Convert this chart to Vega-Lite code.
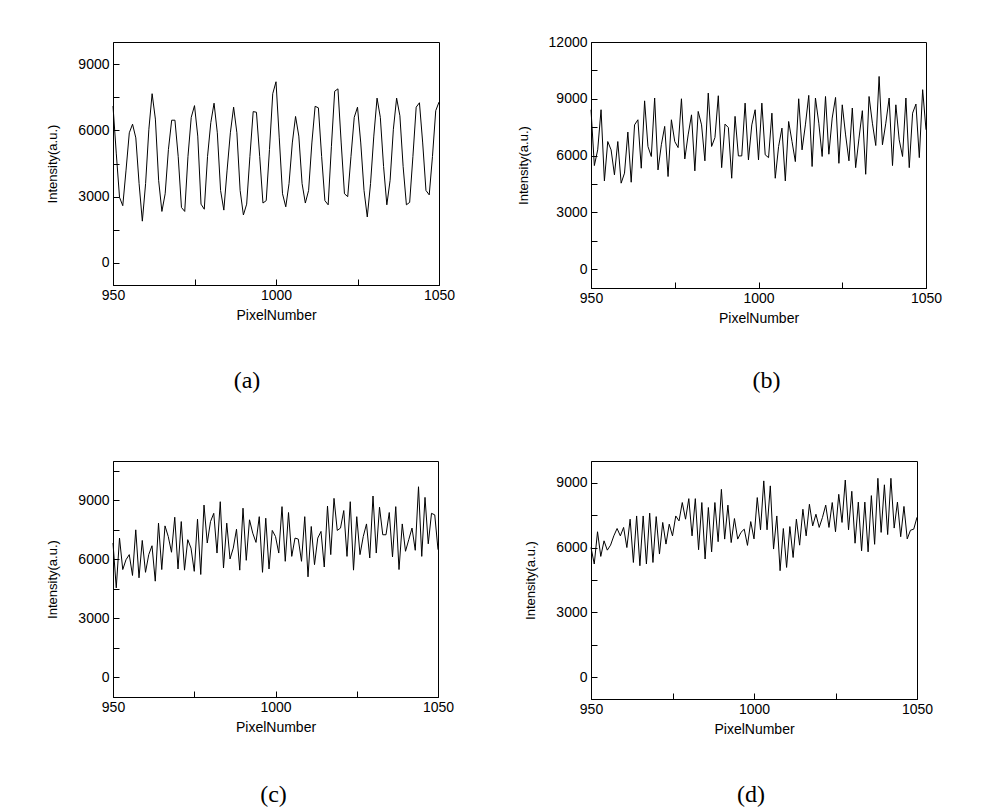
{
"$schema": "https://vega.github.io/schema/vega-lite/v6.json",
"padding": {"left": 46, "top": 34, "right": 0, "bottom": 0},
"autosize": {"type": "pad"},
"background": "white",
"config": {
 "view": {"stroke": "black", "strokeWidth": 1},
 "font": "Liberation Sans",
 "axis": {"grid": false, "tickSize": -6, "tickColor": "black", "tickWidth": 1, "domainColor": "black", "labelColor": "black", "titleColor": "black", "labelFont": "Liberation Sans", "titleFont": "Liberation Sans", "labelFontSize": 14, "titleFontSize": 14, "titleFontWeight": "normal", "labelFlush": false, "labelOverlap": false, "format": "d", "labelPadding": 10},
 "axisX": {"titlePadding": 6, "labelPadding": 9},
 "axisY": {"titlePadding": 18, "titleFontSize": 13},
 "title": {"font": "Liberation Serif", "fontSize": 24, "fontWeight": "normal", "color": "black", "orient": "bottom", "anchor": "middle", "offset": 50}
},
"datasets": {
 "a": [{"n":950,"v":7100},{"n":951,"v":4970},{"n":952,"v":2970},{"n":953,"v":2590},{"n":954,"v":4200},{"n":955,"v":5890},{"n":956,"v":6280},{"n":957,"v":5660},{"n":958,"v":3590},{"n":959,"v":1890},{"n":960,"v":3590},{"n":961,"v":6050},{"n":962,"v":7660},{"n":963,"v":6510},{"n":964,"v":3740},{"n":965,"v":2330},{"n":966,"v":3130},{"n":967,"v":5130},{"n":968,"v":6460},{"n":969,"v":6460},{"n":970,"v":4820},{"n":971,"v":2510},{"n":972,"v":2330},{"n":973,"v":4820},{"n":974,"v":6590},{"n":975,"v":7120},{"n":976,"v":5740},{"n":977,"v":2660},{"n":978,"v":2430},{"n":979,"v":4820},{"n":980,"v":6350},{"n":981,"v":7230},{"n":982,"v":5890},{"n":983,"v":3280},{"n":984,"v":2390},{"n":985,"v":4200},{"n":986,"v":5890},{"n":987,"v":7050},{"n":988,"v":5890},{"n":989,"v":3280},{"n":990,"v":2170},{"n":991,"v":2660},{"n":992,"v":4820},{"n":993,"v":6850},{"n":994,"v":6820},{"n":995,"v":4820},{"n":996,"v":2710},{"n":997,"v":2820},{"n":998,"v":5130},{"n":999,"v":7660},{"n":1000,"v":8200},{"n":1001,"v":5660},{"n":1002,"v":3130},{"n":1003,"v":2540},{"n":1004,"v":3590},{"n":1005,"v":5430},{"n":1006,"v":6630},{"n":1007,"v":5740},{"n":1008,"v":3590},{"n":1009,"v":2710},{"n":1010,"v":3280},{"n":1011,"v":5430},{"n":1012,"v":7090},{"n":1013,"v":7020},{"n":1014,"v":4820},{"n":1015,"v":2820},{"n":1016,"v":2630},{"n":1017,"v":5280},{"n":1018,"v":7770},{"n":1019,"v":7880},{"n":1020,"v":5430},{"n":1021,"v":3130},{"n":1022,"v":3000},{"n":1023,"v":4820},{"n":1024,"v":6590},{"n":1025,"v":7050},{"n":1026,"v":5430},{"n":1027,"v":3280},{"n":1028,"v":2080},{"n":1029,"v":3590},{"n":1030,"v":5740},{"n":1031,"v":7460},{"n":1032,"v":6590},{"n":1033,"v":4360},{"n":1034,"v":2630},{"n":1035,"v":3740},{"n":1036,"v":6050},{"n":1037,"v":7460},{"n":1038,"v":6660},{"n":1039,"v":4360},{"n":1040,"v":2630},{"n":1041,"v":2740},{"n":1042,"v":4820},{"n":1043,"v":7050},{"n":1044,"v":7250},{"n":1045,"v":5430},{"n":1046,"v":3280},{"n":1047,"v":3080},{"n":1048,"v":4820},{"n":1049,"v":6890},{"n":1050,"v":7280}],
 "b": [{"n":950,"v":8420},{"n":951,"v":5470},{"n":952,"v":6300},{"n":953,"v":8420},{"n":954,"v":4660},{"n":955,"v":6740},{"n":956,"v":6300},{"n":957,"v":4980},{"n":958,"v":6740},{"n":959,"v":4540},{"n":960,"v":5070},{"n":961,"v":7240},{"n":962,"v":4590},{"n":963,"v":7620},{"n":964,"v":7890},{"n":965,"v":5330},{"n":966,"v":8890},{"n":967,"v":6480},{"n":968,"v":5950},{"n":969,"v":9040},{"n":970,"v":5240},{"n":971,"v":6570},{"n":972,"v":7540},{"n":973,"v":4890},{"n":974,"v":7890},{"n":975,"v":6740},{"n":976,"v":6420},{"n":977,"v":9000},{"n":978,"v":5820},{"n":979,"v":7090},{"n":980,"v":8150},{"n":981,"v":5190},{"n":982,"v":8330},{"n":983,"v":7620},{"n":984,"v":5720},{"n":985,"v":9300},{"n":986,"v":6480},{"n":987,"v":6950},{"n":988,"v":9160},{"n":989,"v":5360},{"n":990,"v":7660},{"n":991,"v":7480},{"n":992,"v":4800},{"n":993,"v":8070},{"n":994,"v":5980},{"n":995,"v":5980},{"n":996,"v":8770},{"n":997,"v":5770},{"n":998,"v":7620},{"n":999,"v":8420},{"n":1000,"v":5770},{"n":1001,"v":8770},{"n":1002,"v":6040},{"n":1003,"v":5890},{"n":1004,"v":8240},{"n":1005,"v":4800},{"n":1006,"v":6480},{"n":1007,"v":7450},{"n":1008,"v":4660},{"n":1009,"v":7800},{"n":1010,"v":6740},{"n":1011,"v":5680},{"n":1012,"v":9000},{"n":1013,"v":6300},{"n":1014,"v":7620},{"n":1015,"v":9180},{"n":1016,"v":5420},{"n":1017,"v":9040},{"n":1018,"v":7710},{"n":1019,"v":5950},{"n":1020,"v":9120},{"n":1021,"v":6070},{"n":1022,"v":7980},{"n":1023,"v":9070},{"n":1024,"v":5590},{"n":1025,"v":8680},{"n":1026,"v":7090},{"n":1027,"v":5720},{"n":1028,"v":8510},{"n":1029,"v":5360},{"n":1030,"v":6920},{"n":1031,"v":8370},{"n":1032,"v":5010},{"n":1033,"v":9120},{"n":1034,"v":7710},{"n":1035,"v":6530},{"n":1036,"v":10180},{"n":1037,"v":6570},{"n":1038,"v":7710},{"n":1039,"v":9040},{"n":1040,"v":5470},{"n":1041,"v":8680},{"n":1042,"v":6830},{"n":1043,"v":5950},{"n":1044,"v":9040},{"n":1045,"v":5360},{"n":1046,"v":8240},{"n":1047,"v":8720},{"n":1048,"v":5890},{"n":1049,"v":9480},{"n":1050,"v":7360}],
 "c": [{"n":950,"v":6830},{"n":951,"v":4550},{"n":952,"v":7080},{"n":953,"v":5480},{"n":954,"v":5980},{"n":955,"v":6240},{"n":956,"v":5180},{"n":957,"v":7500},{"n":958,"v":5060},{"n":959,"v":6960},{"n":960,"v":5340},{"n":961,"v":6240},{"n":962,"v":6690},{"n":963,"v":4890},{"n":964,"v":7840},{"n":965,"v":5480},{"n":966,"v":7700},{"n":967,"v":7160},{"n":968,"v":6360},{"n":969,"v":8140},{"n":970,"v":5510},{"n":971,"v":7920},{"n":972,"v":5450},{"n":973,"v":7000},{"n":974,"v":6570},{"n":975,"v":5390},{"n":976,"v":8040},{"n":977,"v":5230},{"n":978,"v":8760},{"n":979,"v":6830},{"n":980,"v":7920},{"n":981,"v":8340},{"n":982,"v":6320},{"n":983,"v":8930},{"n":984,"v":5560},{"n":985,"v":7840},{"n":986,"v":6020},{"n":987,"v":6570},{"n":988,"v":7530},{"n":989,"v":5450},{"n":990,"v":8600},{"n":991,"v":5950},{"n":992,"v":8010},{"n":993,"v":7330},{"n":994,"v":6860},{"n":995,"v":8170},{"n":996,"v":5340},{"n":997,"v":8090},{"n":998,"v":5510},{"n":999,"v":7470},{"n":1000,"v":7160},{"n":1001,"v":6320},{"n":1002,"v":8680},{"n":1003,"v":5900},{"n":1004,"v":8380},{"n":1005,"v":6150},{"n":1006,"v":7080},{"n":1007,"v":7030},{"n":1008,"v":5900},{"n":1009,"v":8170},{"n":1010,"v":5110},{"n":1011,"v":7670},{"n":1012,"v":5730},{"n":1013,"v":7080},{"n":1014,"v":7420},{"n":1015,"v":5610},{"n":1016,"v":8710},{"n":1017,"v":6240},{"n":1018,"v":9100},{"n":1019,"v":7470},{"n":1020,"v":7590},{"n":1021,"v":8480},{"n":1022,"v":6150},{"n":1023,"v":8930},{"n":1024,"v":5450},{"n":1025,"v":8170},{"n":1026,"v":6240},{"n":1027,"v":7160},{"n":1028,"v":7800},{"n":1029,"v":6070},{"n":1030,"v":9220},{"n":1031,"v":6320},{"n":1032,"v":8650},{"n":1033,"v":7250},{"n":1034,"v":7250},{"n":1035,"v":8380},{"n":1036,"v":6120},{"n":1037,"v":8680},{"n":1038,"v":5480},{"n":1039,"v":7800},{"n":1040,"v":6410},{"n":1041,"v":7000},{"n":1042,"v":7590},{"n":1043,"v":6460},{"n":1044,"v":9690},{"n":1045,"v":6150},{"n":1046,"v":9150},{"n":1047,"v":6790},{"n":1048,"v":8340},{"n":1049,"v":8260},{"n":1050,"v":6490}],
 "d": [{"n":950,"v":6000},{"n":951,"v":5240},{"n":952,"v":6730},{"n":953,"v":5590},{"n":954,"v":6310},{"n":955,"v":5880},{"n":956,"v":6110},{"n":957,"v":6540},{"n":958,"v":6880},{"n":959,"v":6540},{"n":960,"v":6930},{"n":961,"v":6000},{"n":962,"v":7310},{"n":963,"v":5310},{"n":964,"v":7460},{"n":965,"v":5160},{"n":966,"v":7460},{"n":967,"v":5240},{"n":968,"v":7590},{"n":969,"v":5310},{"n":970,"v":7430},{"n":971,"v":5700},{"n":972,"v":7160},{"n":973,"v":6160},{"n":974,"v":7080},{"n":975,"v":6540},{"n":976,"v":7460},{"n":977,"v":7230},{"n":978,"v":8080},{"n":979,"v":7310},{"n":980,"v":8260},{"n":981,"v":6540},{"n":982,"v":8260},{"n":983,"v":5900},{"n":984,"v":8080},{"n":985,"v":5470},{"n":986,"v":7850},{"n":987,"v":5800},{"n":988,"v":8080},{"n":989,"v":6270},{"n":990,"v":8690},{"n":991,"v":6390},{"n":992,"v":7960},{"n":993,"v":6230},{"n":994,"v":7340},{"n":995,"v":6390},{"n":996,"v":6700},{"n":997,"v":6850},{"n":998,"v":6100},{"n":999,"v":7200},{"n":1000,"v":6400},{"n":1001,"v":8310},{"n":1002,"v":6820},{"n":1003,"v":9080},{"n":1004,"v":6820},{"n":1005,"v":8850},{"n":1006,"v":5930},{"n":1007,"v":7460},{"n":1008,"v":4930},{"n":1009,"v":6880},{"n":1010,"v":5080},{"n":1011,"v":6970},{"n":1012,"v":5540},{"n":1013,"v":7310},{"n":1014,"v":6110},{"n":1015,"v":7770},{"n":1016,"v":6540},{"n":1017,"v":8000},{"n":1018,"v":7000},{"n":1019,"v":7540},{"n":1020,"v":6930},{"n":1021,"v":7390},{"n":1022,"v":7960},{"n":1023,"v":6930},{"n":1024,"v":8080},{"n":1025,"v":6730},{"n":1026,"v":8460},{"n":1027,"v":7160},{"n":1028,"v":9120},{"n":1029,"v":6820},{"n":1030,"v":8600},{"n":1031,"v":6200},{"n":1032,"v":8100},{"n":1033,"v":5850},{"n":1034,"v":8100},{"n":1035,"v":5800},{"n":1036,"v":8400},{"n":1037,"v":6150},{"n":1038,"v":9200},{"n":1039,"v":6700},{"n":1040,"v":8900},{"n":1041,"v":6600},{"n":1042,"v":9200},{"n":1043,"v":6900},{"n":1044,"v":8100},{"n":1045,"v":6500},{"n":1046,"v":7900},{"n":1047,"v":6400},{"n":1048,"v":6800},{"n":1049,"v":6850},{"n":1050,"v":7400}]
},
"bounds": "flush",
"columns": 2,
"spacing": {"row": 173, "column": 152},
"concat": [
  {"width": 326, "height": 243, "data": {"name": "a"},
   "title": {"text": "(a)", "dx": -29, "offset": 47},
   "mark": {"type": "line", "color": "black", "strokeWidth": 1},
   "encoding": {
    "x": {"field": "n", "type": "quantitative", "scale": {"domain": [950, 1050], "nice": false, "zero": false}, "axis": {"values": [950, 975, 1000, 1025, 1050], "labelExpr": "datum.value % 50 === 0 ? datum.label : ''", "title": "PixelNumber"}},
    "y": {"field": "v", "type": "quantitative", "scale": {"domain": [-1000, 10000], "nice": false, "zero": false}, "axis": {"values": [0, 1500, 3000, 4500, 6000, 7500, 9000, 10500], "labelExpr": "datum.value % 3000 === 0 ? datum.label : ''", "title": "Intensity(a.u.)"}}
   }},
  {"width": 335, "height": 246, "data": {"name": "b"},
   "title": {"text": "(b)", "dx": 8, "offset": 44},
   "mark": {"type": "line", "color": "black", "strokeWidth": 1},
   "encoding": {
    "x": {"field": "n", "type": "quantitative", "scale": {"domain": [950, 1050], "nice": false, "zero": false}, "axis": {"values": [950, 975, 1000, 1025, 1050], "labelExpr": "datum.value % 50 === 0 ? datum.label : ''", "title": "PixelNumber"}},
    "y": {"field": "v", "type": "quantitative", "scale": {"domain": [-1000, 12000], "nice": false, "zero": false}, "axis": {"values": [0, 1500, 3000, 4500, 6000, 7500, 9000, 10500, 12000], "labelExpr": "datum.value % 3000 === 0 ? datum.label : ''", "title": "Intensity(a.u.)"}}
   }},
  {"width": 325, "height": 236, "data": {"name": "c"},
   "title": {"text": "(c)", "dx": -2, "offset": 49},
   "mark": {"type": "line", "color": "black", "strokeWidth": 1},
   "encoding": {
    "x": {"field": "n", "type": "quantitative", "scale": {"domain": [950, 1050], "nice": false, "zero": false}, "axis": {"values": [950, 975, 1000, 1025, 1050], "labelExpr": "datum.value % 50 === 0 ? datum.label : ''", "title": "PixelNumber"}},
    "y": {"field": "v", "type": "quantitative", "scale": {"domain": [-1000, 11000], "nice": false, "zero": false}, "axis": {"values": [0, 1500, 3000, 4500, 6000, 7500, 9000, 10500], "labelExpr": "datum.value % 3000 === 0 ? datum.label : ''", "title": "Intensity(a.u.)"}}
   }},
  {"width": 326, "height": 238, "data": {"name": "d"},
   "title": {"text": "(d)", "dx": -3, "offset": 47},
   "mark": {"type": "line", "color": "black", "strokeWidth": 1},
   "encoding": {
    "x": {"field": "n", "type": "quantitative", "scale": {"domain": [950, 1050], "nice": false, "zero": false}, "axis": {"values": [950, 975, 1000, 1025, 1050], "labelExpr": "datum.value % 50 === 0 ? datum.label : ''", "title": "PixelNumber"}},
    "y": {"field": "v", "type": "quantitative", "scale": {"domain": [-1000, 10000], "nice": false, "zero": false}, "axis": {"values": [0, 1500, 3000, 4500, 6000, 7500, 9000], "labelExpr": "datum.value % 3000 === 0 ? datum.label : ''", "title": "Intensity(a.u.)"}}
   }}
]
}
